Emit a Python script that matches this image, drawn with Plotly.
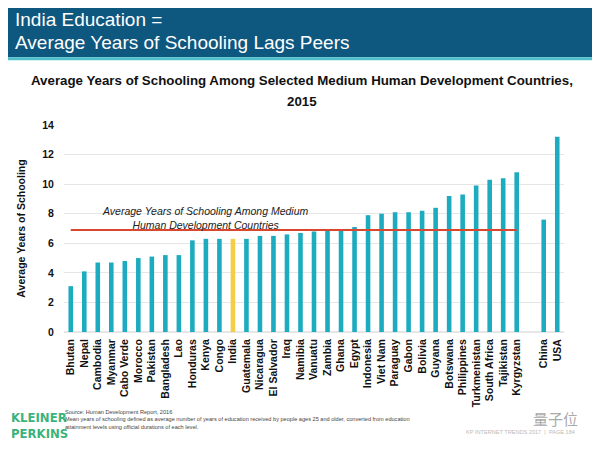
import plotly.graph_objects as go

countries = ["Bhutan", "Nepal", "Cambodia", "Myanmar", "Cabo Verde", "Morocco", "Pakistan",
             "Bangladesh", "Lao", "Honduras", "Kenya", "Congo", "India", "Guatemala", "Nicaragua",
             "El Salvador", "Iraq", "Namibia", "Vanuatu", "Zambia", "Ghana", "Egypt", "Indonesia",
             "Viet Nam", "Paraguay", "Gabon", "Bolivia", "Guyana", "Botswana", "Philippines",
             "Turkmenistan", "South Africa", "Tajikistan", "Kyrgyzstan"]
years = [3.1, 4.1, 4.7, 4.7, 4.8, 5.0, 5.1, 5.2, 5.2, 6.2, 6.3, 6.3, 6.3, 6.3, 6.5,
         6.5, 6.6, 6.7, 6.8, 6.9, 6.9, 7.1, 7.9, 8.0, 8.1, 8.1, 8.2, 8.4, 9.2, 9.3,
         9.9, 10.3, 10.4, 10.8]
peers = ["China", "USA"]
peer_years = [7.6, 13.2]
medium_avg = 6.9
highlight = "India"

TEAL = "#1DABBF"
YELLOW = "#F3CE4B"
RED = "#D9472F"

gap = " "
cats = countries + [gap] + peers
vals = years + [None] + peer_years
colors = [YELLOW if c == highlight else TEAL for c in cats]

# the page keeps its default 8px body margin, so the figure is drawn at (8, 8)
OFF = 8
W, H = 600 - OFF, 450 - OFF
L, R, T, B = 64 - OFF, 36, 124.5 - OFF, 118
pw, ph = W - L - R, H - T - B


def px(x):
    return (x - OFF - L) / pw


def py(y):
    return (H + OFF - B - y) / ph


fig = go.Figure()
fig.add_trace(go.Bar(x=cats, y=vals, marker=dict(color=colors, line=dict(width=0)),
                     width=0.34, hoverinfo="x+y", showlegend=False))
fig.add_trace(go.Scatter(x=countries, y=[medium_avg] * len(countries), mode="lines",
                         line=dict(color=RED, width=2), hoverinfo="skip", showlegend=False))

shapes = [
    dict(type="rect", xref="paper", yref="paper", x0=px(0), x1=px(600), y0=py(56.5), y1=py(0),
         fillcolor="#0E577F", line=dict(width=0), layer="below"),
    dict(type="rect", xref="paper", yref="paper", x0=px(0), x1=px(600), y0=py(59.5), y1=py(56.5),
         fillcolor="#4FC0CC", line=dict(width=0), layer="below"),
]

NARROW = "DejaVu Sans Condensed, Liberation Sans Narrow, Arial Narrow, Liberation Sans"
ann = [
    dict(text="India Education =", x=px(13), y=py(19), xanchor="left", yanchor="middle",
         font=dict(size=19, color="white", family="Liberation Sans, Arial")),
    dict(text="Average Years of Schooling Lags Peers", x=px(13), y=py(42), xanchor="left",
         yanchor="middle", font=dict(size=19, color="white", family="Liberation Sans, Arial")),
    dict(text="Average Years of Schooling Among Selected Medium Human Development Countries,",
         x=px(302), y=py(80), xanchor="center", yanchor="middle",
         font=dict(size=13.3, color="#111111", family="Liberation Sans, Arial", weight="bold")),
    dict(text="2015", x=px(302), y=py(101), xanchor="center", yanchor="middle",
         font=dict(size=13.3, color="#111111", family="Liberation Sans, Arial", weight="bold")),
    dict(text="Average Years of Schooling Among Medium<br>Human Development Countries",
         x=px(205), y=py(218), xanchor="center", yanchor="middle", align="center",
         font=dict(size=10.5, color="#222222", family="Liberation Sans, Arial", style="italic")),
    dict(text="KLEINER", x=px(9), y=py(418), xanchor="left", yanchor="middle",
         font=dict(size=13, color="#3BB37B", family=NARROW, weight="bold")),
    dict(text="PERKINS", x=px(9), y=py(434), xanchor="left", yanchor="middle",
         font=dict(size=13, color="#3BB37B", family=NARROW, weight="bold")),
    dict(text="Source: Human Development Report, 2016<br>Mean years of schooling defined as average number of years of education received by people ages 25 and older, converted from education<br>attainment levels using official durations of each level.",
         x=px(63), y=py(420), xanchor="left", yanchor="middle", align="left",
         font=dict(size=5.6, color="#444444", family="Liberation Sans, Arial")),
    dict(text="KP INTERNET TRENDS 2017  |  PAGE 184", x=px(577), y=py(432), xanchor="right",
         yanchor="middle", font=dict(size=5.6, color="#BBBBBB", family="Liberation Sans, Arial")),
    dict(text="量子位", x=px(580), y=py(419), xanchor="right", yanchor="middle",
         font=dict(size=15, color="#AAAAAA", family="Noto Sans CJK SC")),
]
for a in ann:
    a.setdefault("xref", "paper")
    a.setdefault("yref", "paper")
    a["showarrow"] = False

fig.update_layout(
    width=W, height=H, margin=dict(l=L, r=R, t=T, b=B),
    paper_bgcolor="white", plot_bgcolor="white",
    font=dict(family="Liberation Sans, Arial", color="#111111"),
    shapes=shapes, annotations=ann, bargap=0.66,
    xaxis=dict(type="category", categoryorder="array", categoryarray=cats,
               tickangle=-90,
               tickfont=dict(size=10.5, color="#111111", family="Liberation Sans, Arial", weight="bold"),
               showgrid=False, showline=False, zeroline=False,
               ticks="outside", ticklen=2, tickcolor="rgba(0,0,0,0)", automargin=False,
               range=[-0.5, len(cats) - 0.5], fixedrange=True),
    yaxis=dict(range=[0, 14], dtick=2, gridcolor="#E6E6E6", gridwidth=1, zeroline=True,
               zerolinecolor="#E6E6E6", showline=False,
               ticks="outside", ticklen=7, tickcolor="rgba(0,0,0,0)", automargin=False,
               tickfont=dict(size=10.5, color="#111111", family="Liberation Sans, Arial", weight="bold"),
               title=dict(text="Average Years of Schooling",
                          font=dict(size=10.5, family="Liberation Sans, Arial", weight="bold"),
                          standoff=14)),
)

fig.write_html("out.html", config={"staticPlot": True})
